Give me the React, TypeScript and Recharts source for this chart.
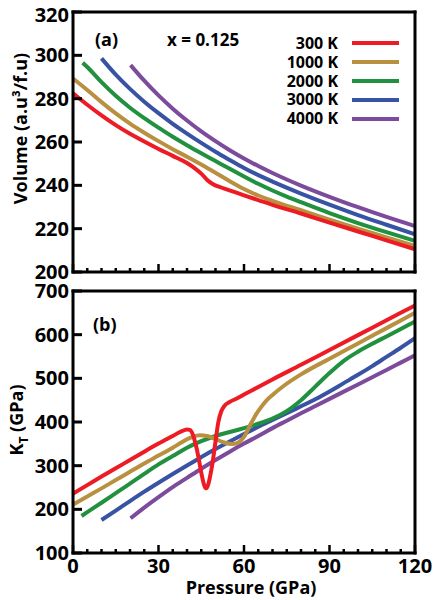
import React from 'react';
import { LineChart, Line, XAxis, YAxis, Legend } from 'recharts';

const temps = ['300 K', '1000 K', '2000 K', '3000 K', '4000 K'];
const colors = ['#ed1c24', '#b8903f', '#21903f', '#3852a4', '#7c4b9c'];

// volume (a.u^3/f.u) vs pressure (GPa), [P, V]
const vol300 = [[0, 282.5], [5, 277.2], [10, 272.3], [15, 267.8], [20, 263.8], [25, 260.2], [30, 256.8], [35, 253.6], [40, 250.3], [43, 247.6], [45, 245.4], [47, 242.6], [49, 240.6], [52, 239], [56, 237.2], [60, 235.4], [65, 233.2], [70, 231], [80, 227], [90, 222.8], [100, 218.7], [110, 214.6], [120, 210.5]];
const vol1000 = [[0, 289.3], [5, 284], [10, 278.4], [15, 273.2], [20, 268.5], [25, 264.3], [30, 260.4], [35, 256.7], [40, 253.2], [45, 249.6], [50, 245.8], [55, 241.9], [60, 238.3], [65, 235.3], [70, 232.8], [80, 228.5], [90, 224.2], [100, 220], [110, 216], [120, 212]];
const vol2000 = [[3.4, 296.6], [5, 294.6], [10, 287.6], [15, 281.3], [20, 275.8], [25, 271], [30, 266.6], [35, 262.4], [40, 258.5], [45, 254.8], [50, 251.2], [55, 247.6], [60, 244.1], [65, 240.7], [70, 237.6], [75, 234.8], [80, 232.2], [90, 227.2], [100, 222.6], [110, 218.4], [120, 214.4]];
const vol3000 = [[10, 298.6], [15, 291.1], [20, 284.5], [25, 278.6], [30, 273.3], [35, 268.4], [40, 263.9], [45, 259.6], [50, 255.5], [55, 251.7], [60, 248], [65, 244.7], [70, 241.7], [80, 236.2], [90, 231.1], [100, 226.3], [110, 221.8], [120, 217.4]];
const vol4000 = [[20.2, 295.5], [25, 288.3], [30, 281.5], [35, 275.4], [40, 269.9], [45, 264.9], [50, 260.4], [55, 256.2], [60, 252.4], [65, 248.9], [70, 245.7], [75, 242.7], [80, 239.9], [90, 234.7], [100, 229.9], [110, 225.4], [120, 221.2]];

// bulk modulus K_T (GPa) vs pressure (GPa), [P, K]
const kt300 = [[0, 236], [5, 255.5], [10, 275], [15, 294], [20, 313], [25, 332], [30, 350.5], [35, 368], [38, 378.5], [40, 383], [41, 382], [42, 372], [43, 350], [44, 320], [45, 284], [46, 256], [46.6, 248], [47.3, 254], [48, 272], [49, 308], [50, 355], [51, 400], [52, 424], [53, 436], [55, 446], [57.5, 454], [60, 463], [65, 480], [70, 497.5], [80, 531], [90, 565], [100, 599], [110, 633], [120, 667]];
const kt1000 = [[0, 211], [5, 229.5], [10, 248], [15, 267], [20, 286], [25, 305], [30, 323], [35, 341], [38, 353], [40, 360.5], [42, 366], [44.5, 369.5], [47, 368], [50, 361], [53, 353], [56, 349.5], [58, 353], [60, 366], [62, 391], [64, 415], [66, 434], [68, 450], [70, 462], [74, 483], [80, 509], [90, 545], [100, 580], [110, 615], [120, 650]];
const kt2000 = [[3, 184.7], [5, 193.5], [10, 215], [15, 237], [20, 259], [25, 281], [30, 303], [35, 322], [40, 341], [45, 356], [50, 368], [55, 377], [60, 386], [65, 396], [70, 408], [75, 425], [80, 450], [85, 481], [90, 512], [95, 540], [100, 561], [105, 579], [110, 596], [115, 613], [120, 630]];
const kt3000 = [[10, 175.6], [15, 197], [20, 219], [25, 240.5], [30, 261], [35, 281], [40, 300.5], [45, 319.5], [50, 338], [55, 355.5], [60, 372.5], [65, 389], [70, 404.5], [75, 420], [80, 436], [85, 452], [90, 470], [95, 489], [100, 508], [105, 528], [110, 549], [115, 570], [120, 592]];
const kt4000 = [[20.2, 179.5], [25, 204], [30, 228], [35, 251], [40, 272], [45, 293], [50, 313], [55, 332], [60, 350.5], [65, 368], [70, 386], [75, 403], [80, 420], [85, 436.5], [90, 453], [95, 469.5], [100, 486], [105, 502.5], [110, 519], [115, 536], [120, 553]];

const volSeries = [vol300, vol1000, vol2000, vol3000, vol4000];
const ktSeries = [kt300, kt1000, kt2000, kt3000, kt4000];

const pressureTicks = [0, 5, 10, 15, 20, 25, 30, 35, 40, 45, 50, 55, 60, 65, 70, 75, 80, 85, 90, 95, 100, 105, 110, 115, 120];
const volTicks = [200, 220, 240, 260, 280, 300, 320];
const ktTicks = [100, 200, 300, 400, 500, 600, 700];

const FONT = '"Open Sans", sans-serif';
const drawOrder = [4, 3, 2, 1, 0];

const toRows = (pts: number[][]) => pts.map(([p, v]) => ({ p, v }));

const frame = { stroke: '#000', strokeWidth: 3, strokeLinecap: 'square' as const };

const LeftTick = ({ x, y, payload }: any) => (
  <g>
    <line x1={x} y1={y} x2={x + 9} y2={y} stroke="#000" strokeWidth={3} />
    <text x={x - 4} y={y} dy={payload.value === 320 ? 10 : 7} textAnchor="end" fontFamily={FONT} fontWeight={700} fontSize={20} fill="#000">
      {payload.value}
    </text>
  </g>
);

const RightTick = ({ x, y }: any) => <line x1={x} y1={y} x2={x - 9} y2={y} stroke="#000" strokeWidth={3} />;

const TopTick = ({ x, y, payload }: any) => (
  <line x1={x} y1={y} x2={x} y2={y + (payload.value % 30 === 0 ? 8 : 4)} stroke="#000" strokeWidth={2.5} />
);

const makeBottomTick = (withLabel: boolean) => ({ x, y, payload }: any) => {
  const major = payload.value % 30 === 0;
  return (
    <g>
      <line x1={x} y1={y} x2={x} y2={y - (major ? 8 : 4)} stroke="#000" strokeWidth={2.5} />
      {withLabel && major && (
        <text x={x} y={y + 20} textAnchor="middle" fontFamily={FONT} fontWeight={700} fontSize={20} fill="#000">
          {payload.value}
        </text>
      )}
    </g>
  );
};

const volLabel = ({ viewBox }: any) => {
  const cx = viewBox.x + 14;
  const cy = viewBox.y + 116.5;
  return (
    <text x={cx} y={cy} transform={`rotate(-90 ${cx} ${cy})`} textAnchor="middle" fontFamily={FONT} fontWeight={700} fontSize={18} fill="#000">
      Volume (a.u³/f.u)
    </text>
  );
};

const ktLabel = ({ viewBox }: any) => {
  const cx = viewBox.x + 10;
  const cy = viewBox.y + 129;
  return (
    <text x={cx} y={cy} transform={`rotate(-90 ${cx} ${cy})`} textAnchor="middle" fontFamily={FONT} fontWeight={700} fontSize={18} fill="#000">
      K<tspan dy={5} fontSize={12}>T</tspan>
      <tspan dy={-5}> (GPa)</tspan>
    </text>
  );
};

const pressureLabel = ({ viewBox }: any) => (
  <text x={viewBox.x + viewBox.width / 2 + 7} y={viewBox.y + 41} textAnchor="middle" fontFamily={FONT} fontWeight={700} fontSize={18} fill="#000">
    Pressure (GPa)
  </text>
);

const LegendBox = ({ payload }: any) => {
  const items = [...(payload || [])].sort((a: any, b: any) => temps.indexOf(a.value) - temps.indexOf(b.value));
  return (
    <div>
      {items.map((it: any) => (
        <div key={it.value} style={{ display: 'flex', alignItems: 'center', height: 18.8 }}>
          <span style={{ width: 68, textAlign: 'right', fontFamily: FONT, fontWeight: 700, fontSize: 16, lineHeight: '18.8px', color: '#000' }}>
            {it.value}
          </span>
          <span style={{ width: 47, height: 4, marginLeft: 14, background: it.color }} />
        </div>
      ))}
    </div>
  );
};

export default function App() {
  return (
    <div style={{ position: 'absolute', left: 0, top: 0, width: 436, height: 600, background: '#fff' }}>
      <div style={{ position: 'absolute', left: 0, top: 0 }}>
        <LineChart width={436} height={290} margin={{ top: 11, right: 20, bottom: 17, left: 13 }}>
          <XAxis type="number" dataKey="p" domain={[0, 120]} ticks={pressureTicks} interval={0} height={1} tickSize={0} tickMargin={0} tickLine={false} axisLine={frame} tick={makeBottomTick(false)} />
          <XAxis xAxisId="t" orientation="top" type="number" dataKey="p" domain={[0, 120]} ticks={pressureTicks} interval={0} height={1} tickSize={0} tickMargin={0} tickLine={false} axisLine={frame} tick={TopTick} />
          <YAxis type="number" domain={[200, 320]} ticks={volTicks} interval={0} width={60} tickSize={0} tickMargin={0} tickLine={false} axisLine={frame} tick={LeftTick} label={volLabel} />
          <YAxis yAxisId="r" orientation="right" type="number" domain={[200, 320]} ticks={volTicks} interval={0} width={1} tickSize={0} tickMargin={0} tickLine={false} axisLine={frame} tick={RightTick} />
          {drawOrder.map((i) => (
            <Line key={temps[i]} data={toRows(volSeries[i])} dataKey="v" name={temps[i]} type="monotone" stroke={colors[i]} strokeWidth={4} dot={false} activeDot={false} isAnimationActive={false} />
          ))}
          <Legend layout="horizontal" verticalAlign="middle" align="center" content={LegendBox} wrapperStyle={{ left: 270, top: 34, width: 140, height: 96 }} />
          <text x={95} y={46} fontFamily={FONT} fontWeight={700} fontSize={18} fill="#000">(a)</text>
          <text x={167} y={46} fontFamily={FONT} fontWeight={700} fontSize={17} fill="#000">x = 0.125</text>
        </LineChart>
      </div>
      <div style={{ position: 'absolute', left: 0, top: 270 }}>
        <LineChart width={436} height={330} margin={{ top: 20, right: 20, bottom: 0, left: 13 }}>
          <XAxis type="number" dataKey="p" domain={[0, 120]} ticks={pressureTicks} interval={0} height={47} tickSize={0} tickMargin={0} tickLine={false} axisLine={frame} tick={makeBottomTick(true)} label={pressureLabel} />
          <XAxis xAxisId="t" orientation="top" type="number" dataKey="p" domain={[0, 120]} ticks={pressureTicks} interval={0} height={1} tickSize={0} tickMargin={0} tickLine={false} axisLine={frame} tick={TopTick} />
          <YAxis type="number" domain={[100, 700]} ticks={ktTicks} interval={0} width={60} tickSize={0} tickMargin={0} tickLine={false} axisLine={frame} tick={LeftTick} label={ktLabel} />
          <YAxis yAxisId="r" orientation="right" type="number" domain={[100, 700]} ticks={ktTicks} interval={0} width={1} tickSize={0} tickMargin={0} tickLine={false} axisLine={frame} tick={RightTick} />
          {drawOrder.map((i) => (
            <Line key={temps[i]} data={toRows(ktSeries[i])} dataKey="v" name={temps[i]} type="monotone" stroke={colors[i]} strokeWidth={4} dot={false} activeDot={false} isAnimationActive={false} />
          ))}
          <text x={93} y={61} fontFamily={FONT} fontWeight={700} fontSize={18} fill="#000">(b)</text>
        </LineChart>
      </div>
    </div>
  );
}
